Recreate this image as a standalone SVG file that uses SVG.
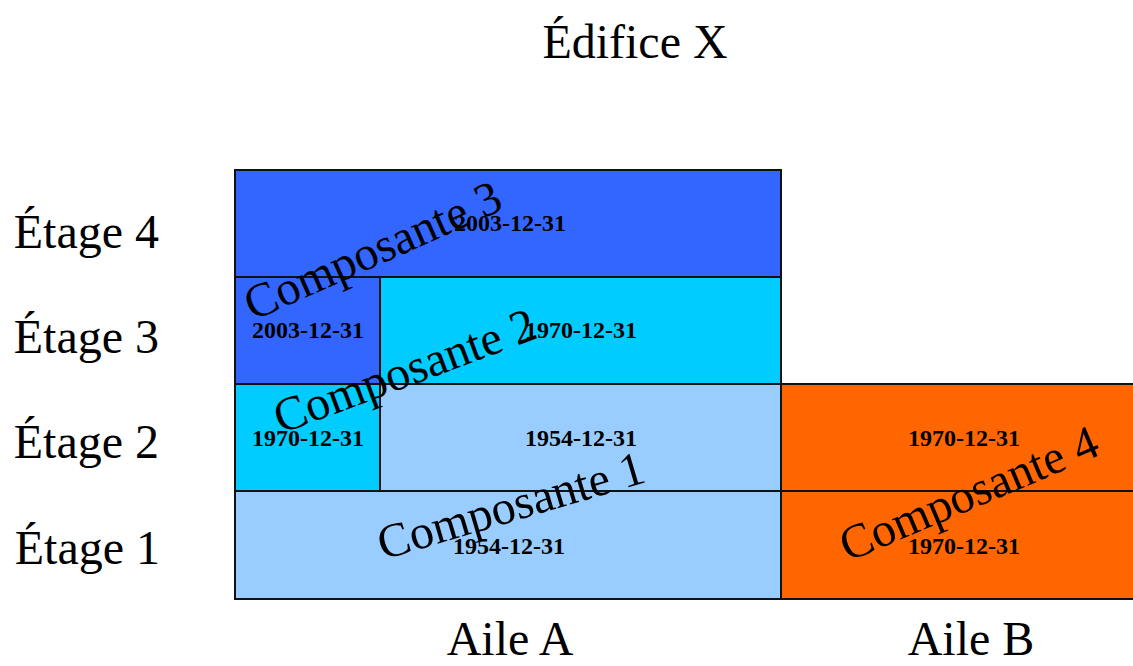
<svg xmlns="http://www.w3.org/2000/svg" width="1133" height="666" viewBox="0 0 1133 666">
<style>
.cell{stroke:#111;stroke-width:2}
.c1{fill:#99CCFF}.c2{fill:#00CCFF}.c3{fill:#3366FF}.c4{fill:#FF6600}
.date{font-family:"Liberation Serif","Times New Roman",serif;font-weight:bold;font-size:24px;text-anchor:middle;fill:#000}
.big{font-family:"Liberation Serif","Times New Roman",serif;font-size:48px;fill:#000}
.mid{text-anchor:middle}
.end{text-anchor:end}
</style>
<rect width="1133" height="666" fill="#fff"/>
<g id="title"><text class="big mid" x="635" y="58">Édifice X</text></g>
<g id="floors">
<text class="big end" x="159" y="248">Étage 4</text>
<text class="big end" x="159" y="353">Étage 3</text>
<text class="big end" x="159" y="458">Étage 2</text>
<text class="big end" x="160" y="564">Étage 1</text>
</g>
<g id="wings">
<text class="big mid" x="510" y="655">Aile A</text>
<text class="big mid" x="971" y="655">Aile B</text>
</g>
<g id="cell-e4-a"><rect class="cell c3" x="235" y="170" width="546" height="107"/><text class="date" x="510" y="231">2003-12-31</text></g>
<g id="cell-e3-a1"><rect class="cell c3" x="235" y="277" width="145" height="107"/><text class="date" x="308" y="338">2003-12-31</text></g>
<g id="cell-e3-a2"><rect class="cell c2" x="380" y="277" width="401" height="107"/><text class="date" x="581" y="338">1970-12-31</text></g>
<g id="cell-e2-a1"><rect class="cell c2" x="235" y="384" width="145" height="107"/><text class="date" x="308" y="446">1970-12-31</text></g>
<g id="cell-e2-a2"><rect class="cell c1" x="380" y="384" width="401" height="107"/><text class="date" x="581" y="446">1954-12-31</text></g>
<g id="cell-e2-b"><rect class="cell c4" x="781" y="384" width="380" height="107"/><text class="date" x="964" y="446">1970-12-31</text></g>
<g id="cell-e1-a"><rect class="cell c1" x="235" y="491" width="546" height="108"/><text class="date" x="509" y="554">1954-12-31</text></g>
<g id="cell-e1-b"><rect class="cell c4" x="781" y="491" width="380" height="108"/><text class="date" x="964" y="554">1970-12-31</text></g>
<g id="components">
<text id="composante-1" class="big" transform="translate(383 560) rotate(-16.5)">Composante 1</text>
<text id="composante-2" class="big" transform="translate(281 434) rotate(-20.5)">Composante 2</text>
<text id="composante-3" class="big" transform="translate(253 321) rotate(-24)">Composante 3</text>
<text id="composante-4" class="big" transform="translate(848 562) rotate(-23)">Composante 4</text>
</g>
</svg>
